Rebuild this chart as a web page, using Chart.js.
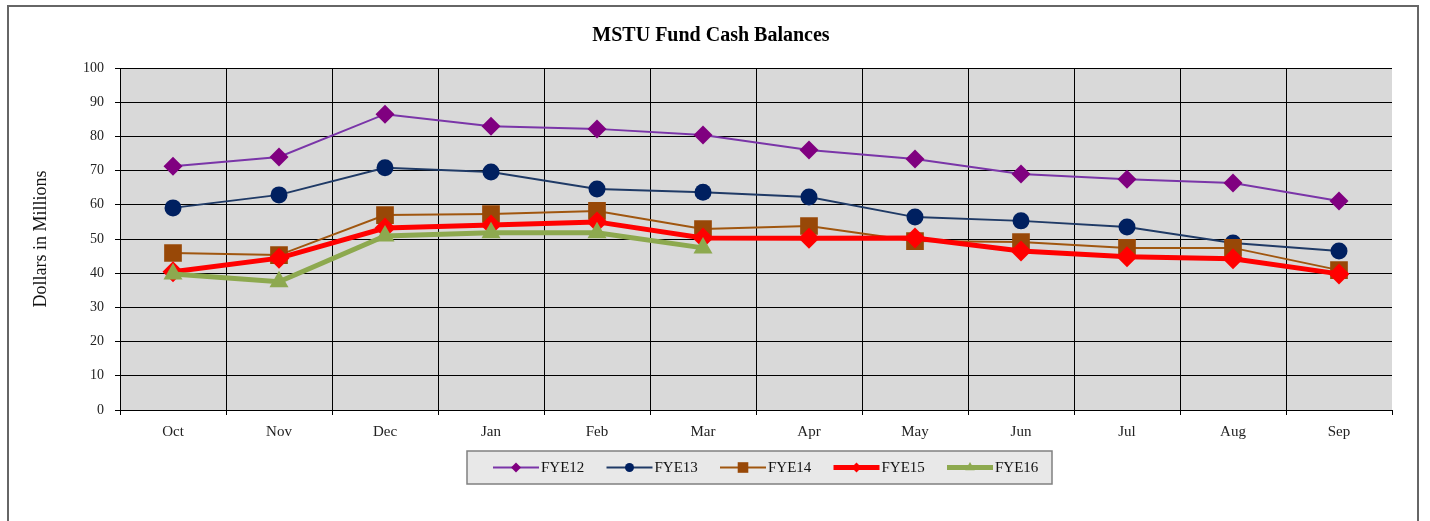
<!DOCTYPE html>
<html>
<head>
<meta charset="utf-8">
<script src="https://cdn.jsdelivr.net/npm/chart.js@4"></script>
<style>
  html, body { margin: 0; padding: 0; background: #ffffff; overflow: hidden; }
  #wrap { position: relative; width: 1430px; height: 521px; }
  canvas { display: block; }
</style>
</head>
<body>
<div id="wrap"><canvas id="c" width="1430" height="521"></canvas></div>
<script>
const chartTitle = 'MSTU Fund Cash Balances';
const yAxisTitle = 'Dollars in Millions';
const months = ['Oct', 'Nov', 'Dec', 'Jan', 'Feb', 'Mar', 'Apr', 'May', 'Jun', 'Jul', 'Aug', 'Sep'];
const yTicks = { min: 0, max: 100, step: 10 };
const seriesNames = ['FYE12', 'FYE13', 'FYE14', 'FYE15', 'FYE16'];
const fye12 = [71.3, 74.0, 86.5, 83.0, 82.2, 80.4, 76.0, 73.4, 69.0, 67.5, 66.4, 61.1];
const fye13 = [59.1, 62.9, 70.8, 69.6, 64.6, 63.7, 62.3, 56.4, 55.3, 53.5, 48.8, 46.5];
const fye14 = [45.9, 45.3, 57.0, 57.3, 58.2, 52.9, 53.8, 49.4, 49.1, 47.4, 47.4, 40.9];
const fye15 = [40.4, 44.4, 53.2, 54.1, 55.0, 50.3, 50.2, 50.3, 46.5, 44.8, 44.2, 39.8];
const fye16 = [39.8, 37.5, 50.9, 51.8, 51.8, 47.4, null, null, null, null, null, null];

const SERIF = "'Liberation Serif', 'DejaVu Serif', serif";

const styles = [
  { line: '#7A35A8', fill: '#800080', width: 2, style: 'rectRot', r: 9.5, lr: 5 },
  { line: '#1F3A66', fill: '#002060', width: 2, style: 'circle', r: 8.5, lr: 4.5 },
  { line: '#A0560F', fill: '#984807', width: 2, style: 'rect', r: 12.5, lr: 7.5 },
  { line: '#FF0000', fill: '#FF0000', width: 5, style: 'rectRot', r: 10.5, lr: 5 },
  { line: '#8DA94F', fill: '#8DA94F', width: 5, style: 'triangle', r: 11, lr: 5.5 }
];
const values = [fye12, fye13, fye14, fye15, fye16];

const datasets = values.map((v, i) => ({
  label: seriesNames[i],
  data: v,
  borderColor: styles[i].line,
  backgroundColor: styles[i].fill,
  borderWidth: styles[i].width,
  pointStyle: styles[i].style,
  pointRadius: styles[i].r,
  pointBackgroundColor: styles[i].fill,
  pointBorderColor: styles[i].fill,
  pointBorderWidth: 0,
  tension: 0,
  spanGaps: false,
  order: values.length - i
}));

function drawMarker(ctx, style, r, x, y) {
  if (Chart.helpers && Chart.helpers.drawPoint) {
    Chart.helpers.drawPoint(ctx, { pointStyle: style, radius: r, borderWidth: 0, rotation: 0 }, x, y);
  }
}

const framePlugin = {
  id: 'frame',
  beforeDraw(chart) {
    const ctx = chart.ctx;
    const a = chart.chartArea;
    ctx.save();
    ctx.fillStyle = '#ffffff';
    ctx.fillRect(0, 0, chart.width, chart.height);
    ctx.strokeStyle = '#666666';
    ctx.lineWidth = 2;
    ctx.strokeRect(8, 6, 1410, 600);
    ctx.fillStyle = '#D9D9D9';
    ctx.fillRect(a.left, a.top, a.right - a.left, a.bottom - a.top);
    ctx.restore();
  },
  afterDraw(chart) {
    const ctx = chart.ctx;
    ctx.save();
    // title
    ctx.fillStyle = '#000000';
    ctx.font = "bold 20px " + SERIF;
    ctx.textAlign = 'center';
    ctx.textBaseline = 'middle';
    ctx.fillText(chartTitle, 711, 36);
    // legend
    const bx = 467, by = 451, bw = 585, bh = 33;
    ctx.fillStyle = '#E8E8E8';
    ctx.fillRect(bx, by, bw, bh);
    ctx.strokeStyle = '#808080';
    ctx.lineWidth = 1.5;
    ctx.strokeRect(bx, by, bw, bh);
    const cy = by + bh / 2;
    ctx.font = "15px " + SERIF;
    ctx.textAlign = 'left';
    ctx.textBaseline = 'middle';
    chart.data.datasets.forEach((ds, i) => {
      const x0 = 493 + i * 113.5;
      const len = 46;
      ctx.strokeStyle = ds.borderColor;
      ctx.lineWidth = ds.borderWidth;
      ctx.beginPath();
      ctx.moveTo(x0, cy);
      ctx.lineTo(x0 + len, cy);
      ctx.stroke();
      ctx.fillStyle = ds.pointBackgroundColor;
      ctx.strokeStyle = ds.pointBackgroundColor;
      drawMarker(ctx, ds.pointStyle, styles[i].lr, x0 + len / 2, cy);
      ctx.fillStyle = '#111111';
      ctx.fillText(ds.label, x0 + len + 2, cy + 1);
    });
    ctx.restore();
  }
};

new Chart(document.getElementById('c'), {
  type: 'line',
  data: { labels: months, datasets: datasets },
  options: {
    responsive: false,
    animation: false,
    layout: { padding: { left: 20, right: 38, top: 68, bottom: 71 } },
    plugins: {
      legend: { display: false },
      title: { display: false },
      tooltip: { enabled: false }
    },
    scales: {
      x: {
        offset: true,
        afterFit(scale) { scale.height = 40; },
        grid: {
          offset: true,
          color: (c) => (c.type === 'tick' ? '#000000' : 'rgba(0,0,0,0)'),
          tickColor: '#000000',
          lineWidth: 1,
          tickLength: 5,
          drawTicks: true
        },
        border: { color: '#000000', width: 1 },
        ticks: { color: '#222222', font: { family: SERIF, size: 15 }, padding: 8, maxRotation: 0, autoSkip: false }
      },
      y: {
        min: yTicks.min,
        max: yTicks.max,
        afterFit(scale) { scale.width = 100; },
        grid: { color: '#000000', lineWidth: 1, tickLength: 5, tickColor: '#000000' },
        border: { color: '#000000', width: 1 },
        ticks: { stepSize: yTicks.step, color: '#222222', font: { family: SERIF, size: 14 }, padding: 11 },
        title: { display: true, text: yAxisTitle, color: '#111111', font: { family: SERIF, size: 18 }, padding: { top: 10, bottom: 0 } }
      }
    }
  },
  plugins: [framePlugin]
});
</script>
</body>
</html>
